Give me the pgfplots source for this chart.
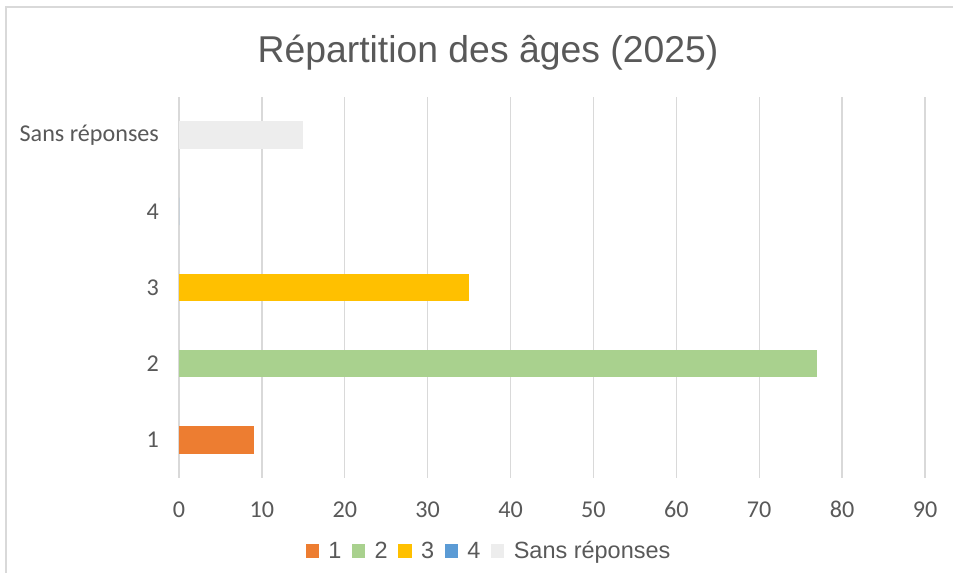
\documentclass[border=0pt]{standalone}
\usepackage{pgfplots}
\pgfplotsset{compat=1.18}
\usepackage{fontspec}
\setmainfont{Liberation Sans}
\newfontfamily\calib{Carlito}
\definecolor{txt}{HTML}{595959}
\definecolor{gridc}{HTML}{D9D9D9}
\definecolor{frame}{HTML}{D9D9D9}
\definecolor{c1}{HTML}{ED7D31}
\definecolor{c2}{HTML}{A9D18E}
\definecolor{c3}{HTML}{FFC000}
\definecolor{c4}{HTML}{5B9BD5}
\definecolor{c5}{HTML}{EDEDED}
\begin{document}
\begin{tikzpicture}
\useasboundingbox (0,0) rectangle (714.75pt,429.75pt);
\fill[white] (0,0) rectangle (714.75pt,429.75pt);
\draw[color=frame, line width=1.5pt] (4.5pt,0) -- (4.5pt,424.5pt) -- (714.75pt,424.5pt);
\node[text=txt, font=\fontsize{28}{32}\selectfont] at (366pt,390pt) {Répartition des âges (2025)};
\begin{axis}[
  at={(134.25pt,71.25pt)}, anchor=south west,
  width=559.5pt, height=285.75pt, scale only axis,
  xmin=0, xmax=90, ymin=0.5, ymax=5.5,
  xbar, bar width=0.36, bar shift=0pt,
  axis line style={draw=none},
  major tick length=0pt,
  xtick distance=10,
  ytick={1,2,3,4,5},
  yticklabels={1,2,3,4,Sans réponses},
  xmajorgrids, grid style={color=gridc, line width=1pt},
  /pgf/number format/assume math mode=true,
  ticklabel style={text=txt, font=\calib\fontsize{18.1}{20}\selectfont},
  xticklabel style={anchor=base, yshift=-30pt},
  yticklabel style={xshift=-11.5pt},
  legend columns=5,
  legend style={at={(0.416,-0.1916)}, anchor=center, draw=none, fill=none,
    font=\fontsize{17.6}{20}\selectfont, text=txt,
    /tikz/every odd column/.append style={column sep=5pt},
    /tikz/every even column/.append style={column sep=6pt}},
  legend image code/.code={\fill[#1] (0pt,-5pt) rectangle (10pt,5pt);},
]
\addplot[fill=c1, draw=none] coordinates {(9,1)};
\addplot[fill=c2, draw=none] coordinates {(77,2)};
\addplot[fill=c3, draw=none] coordinates {(35,3)};
\addplot[fill=c4, draw=none] coordinates {(0,4)};
\addplot[fill=c5, draw=none] coordinates {(15,5)};
\legend{1,2,3,4,Sans réponses}
\end{axis}
\end{tikzpicture}
\end{document}
